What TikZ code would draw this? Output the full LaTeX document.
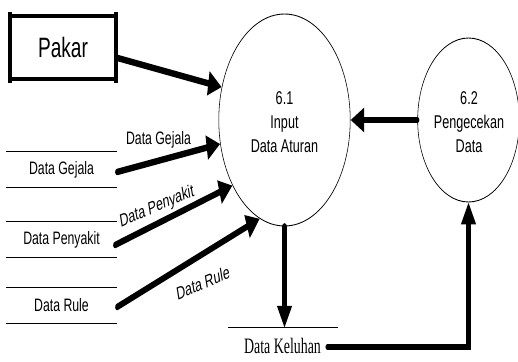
\documentclass[tikz,border=0pt]{standalone}
\usepackage{fontspec}
\usetikzlibrary{shapes.geometric,arrows.meta,calc}
% the whole chart is set wide and then pressed together horizontally
\newfontfamily\widesans[FakeStretch=1.1]{Liberation Sans}
\newfontfamily\wideserif[FakeStretch=1.02]{Liberation Serif}
\newcommand\entityfont{\widesans\fontsize{28}{30}\selectfont}
\newcommand\procfont{\widesans\fontsize{18.5}{24}\selectfont}
\newcommand\storefont{\widesans\fontsize{18}{20}\selectfont}
\newcommand\flowfont{\widesans\fontsize{18}{20}\selectfont}
\newcommand\keluhfont{\wideserif\fontsize{22}{24}\selectfont}
\begin{document}
\begin{tikzpicture}[x=1pt,y=-1pt]
\useasboundingbox (0,0) rectangle (518,361);
\begin{scope}[transform canvas={xscale=0.62}, x=1.6129pt, y=-1pt,
  flow/.style={line width=6.5pt, line cap=round,
    -{Triangle[length=22pt,width=23pt]}},
  bubble/.style={circle, draw, line width=0.9pt, inner sep=0pt},
  entity/.style={draw, line width=4pt, inner sep=0pt,
    minimum width=167pt, minimum height=63pt, font=\entityfont},
  store/.style={inner sep=0pt, minimum width=179pt, minimum height=35pt,
    font=\storefont},
  storeline/.style={line width=0.9pt},
  flowlabel/.style={inner sep=0pt, font=\flowfont},
  proctext/.style={inner sep=0pt, align=center, font=\procfont}]

% external entity
\node[entity] (pakar) at (63,47.5) {Pakar};
\draw[line width=6.9pt] ($(pakar.north west)+(0,-2)$) -- ($(pakar.south west)+(0,2)$)
                        ($(pakar.north east)+(0,-2)$) -- ($(pakar.south east)+(0,2)$);

% processes
\node[bubble, minimum size=212pt] (p61) at (284.5,120) {};
\node[proctext] (t61) at (284.5,122) {6.1\\Input\\Data Aturan};
\node[bubble, minimum size=164pt] (p62) at (468.5,120) {};
\node[proctext] (t62) at (469,122) {6.2\\Pengecekan\\Data};

% data stores on the left
\node[store] (gejala) at (61.5,169.5) {Data Gejala};
\node[store] (penyakit) at (61.5,239.5) {Data Penyakit};
\node[store] (rule) at (61.5,305.5) {Data Rule};
\foreach \s in {gejala,penyakit,rule}{
  \draw[storeline] (\s.north west) -- (\s.north east)
                   (\s.south west) -- (\s.south east);
}

% data store below the input process
\node[inner sep=0pt, minimum width=177pt, minimum height=36pt, font=\keluhfont]
  (keluhan) at (282.5,346) {Data Keluhan};
\draw[storeline] (keluhan.north west) -- (keluhan.north east);

% flows into process 6.1
\draw[flow] ($(pakar.south east)!0.35!(pakar.north east)$) -- (p61.162.9);
\draw[flow] ($(gejala.east)+(0,2.5)$) -- (p61.193.5);
\draw[flow] ($(penyakit.east)+(-2,5.5)$) -- (p61.218.1);
\draw[flow] ($(rule.east)+(0,1.5)$) -- (p61.248.8);

% flow labels
\node[flowlabel] (lgejala) at (158.5,140) {Data Gejala};
\node[flowlabel, rotate=14.7] (lpenyakit) at (157,207) {Data Penyakit};
\node[flowlabel, rotate=14.7] (lrule) at (203,283) {Data Rule};

% 6.2 back to 6.1
\draw[flow] (p62.west) -- (p61.east);

% 6.1 down to the store, store on to 6.2
\draw[flow] (p61.south) -- (p61.south |- keluhan.north);
\draw[flow] ($(keluhan.east)+(-10,1)$) -| (p62.south);
\end{scope}
\end{tikzpicture}
\end{document}
